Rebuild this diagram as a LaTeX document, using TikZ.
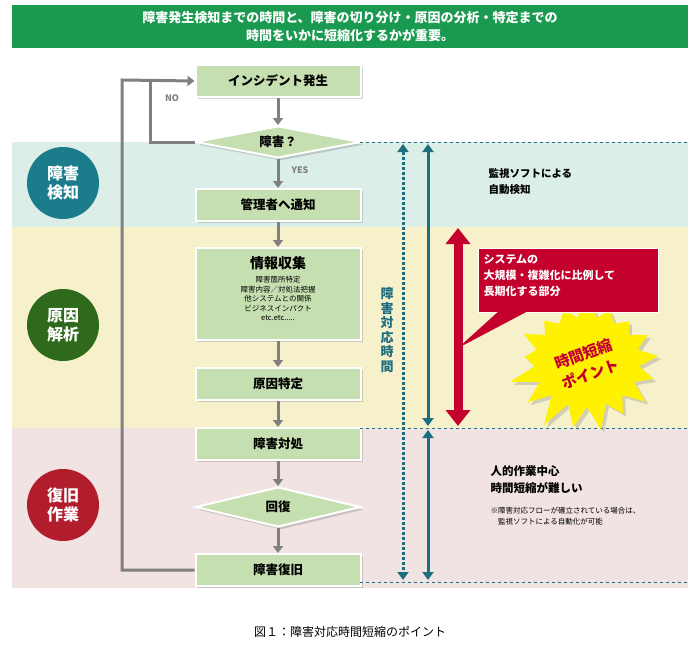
\documentclass[tikz,border=0pt]{standalone}
\usepackage{fontspec}
\setmainfont{Noto Sans CJK JP}
\usetikzlibrary{shapes.geometric,shapes.symbols,arrows.meta,shadows}
\definecolor{bgreen}{HTML}{1A9A50}
\definecolor{bteal}{HTML}{DCEEE8}
\definecolor{byel}{HTML}{F6F1CB}
\definecolor{bpink}{HTML}{F2E3E3}
\definecolor{cteal}{HTML}{1B7D8C}
\definecolor{cgreen}{HTML}{2F6A1C}
\definecolor{cred}{HTML}{B21D2E}
\definecolor{boxg}{HTML}{C6DFB1}
\definecolor{dteal}{HTML}{1F6E80}
\definecolor{dred}{HTML}{C4002D}
\definecolor{flow}{HTML}{808080}
\begin{document}
\begin{tikzpicture}[x=1pt,y=-1pt,
  box/.style={draw=white,line width=2pt,fill=boxg,minimum width=165pt,minimum height=32pt,font=\bfseries\fontsize{12.5}{14}\selectfont,drop shadow={opacity=0.35,shadow xshift=2pt,shadow yshift=-2pt}},
  dia/.style={diamond,aspect=5.2,draw=white,line width=2pt,fill=boxg,inner sep=1pt,font=\bfseries\fontsize{12.5}{14}\selectfont,drop shadow={opacity=0.35}},
  circ/.style={circle,minimum size=72pt,text=white,font=\bfseries\fontsize{16}{19}\selectfont,align=center},
  fl/.style={flow,line width=3pt,-{Triangle[length=7pt,width=10pt]}},
  lp/.style={flow,line width=3pt}]
\useasboundingbox (0,0) rectangle (700,650);
\fill[white] (0,0) rectangle (700,650);
\node[fill=bgreen,text=white,minimum width=676pt,minimum height=43pt,align=center,font=\bfseries\fontsize{13}{18}\selectfont] (ban) at (350,27) {障害発生検知までの時間と、障害の切り分け・原因の分析・特定までの\\時間をいかに短縮化するかが重要。};
\fill[bteal] (12,142) rectangle (688,227);
\fill[byel] (12,227) rectangle (688,428);
\fill[bpink] (12,428) rectangle (688,588);
\node[circ,fill=cteal] (c1) at (63,183) {障害\\検知};
\node[circ,fill=cgreen] (c2) at (63,325) {原因\\解析};
\node[circ,fill=cred] (c3) at (63,505) {復旧\\作業};
% flow
\node[box] (b1) at (278,81) {インシデント発生};
\node[dia,minimum width=165pt,minimum height=32pt] (d1) at (278,142) {障害？};
\node[box] (b2) at (278,205) {管理者へ通知};
\node[box,minimum height=92pt] (b3) at (278,294) {};
\node[font=\bfseries\fontsize{14}{16}\selectfont] (b3t) at (278,263) {情報収集};
\node[align=center,font=\fontsize{7.5}{9.5}\selectfont,anchor=north] (b3s) at (278,273) {障害箇所特定\\障害内容／対処法把握\\他システムとの関係\\ビジネスインパクト\\etc.etc.....};
\node[box] (b4) at (278,384) {原因特定};
\node[box] (b5) at (278,444) {障害対処};
\node[dia,minimum width=165pt,minimum height=40pt] (d2) at (278,507) {回復};
\node[box] (b6) at (278,570) {障害復旧};
\draw[fl] (b1) -- (d1);
\draw[fl] (d1) -- (b2);
\draw[fl] (b2) -- (b3);
\draw[fl] (b3) -- (b4);
\draw[fl] (b4) -- (b5);
\draw[fl] (b5) -- (d2);
\draw[fl] (d2) -- (b6);
\draw[lp] (d1.west) -| (150,80);
\draw[fl] (b6.west) -| (122,80) -- (b1.west);
\node[font=\bfseries\fontsize{9}{10}\selectfont,text=flow] (no) at (172,98) {NO};
\node[font=\bfseries\fontsize{9}{10}\selectfont,text=flow] (yes) at (300,170) {YES};
% dashed lines
\draw[dteal,dashed,line width=0.8pt] (360,142) -- (688,142);
\draw[dteal,dashed,line width=0.8pt] (360,428) -- (688,428);
\draw[dteal,dashed,line width=0.8pt] (360,582) -- (688,582);
\coordinate (t1) at (403,144); \coordinate (t2) at (403,580);
\draw[dteal,line width=3pt,dotted,{Triangle[length=8pt,width=11pt]}-{Triangle[length=8pt,width=11pt]}] (t1) -- (t2);
\node[dteal,font=\bfseries\fontsize{13}{14.5}\selectfont,align=center] (lab) at (387,330) {障\\害\\対\\応\\時\\間};
\coordinate (u1) at (428,144); \coordinate (u2) at (428,426); \coordinate (u3) at (428,430); \coordinate (u4) at (428,580);
\draw[dteal,line width=3pt,{Triangle[length=8pt,width=11pt]}-{Triangle[length=8pt,width=11pt]}] (u1) -- (u2);
\draw[dteal,line width=3pt,{Triangle[length=8pt,width=11pt]}-{Triangle[length=8pt,width=11pt]}] (u3) -- (u4);
\coordinate (r1) at (458,228); \coordinate (r2) at (458,426);
\draw[dred,line width=9pt,{Triangle[length=16pt,width=24pt]}-{Triangle[length=16pt,width=24pt]}] (r1) -- (r2);
% starburst
\node[starburst,starburst points=17,starburst point height=30pt,fill=yellow,minimum width=165pt,minimum height=150pt,drop shadow={opacity=0.3,shadow xshift=3pt,shadow yshift=-3pt},random starburst=7] (sb) at (587,362) {};
\node[rotate=20,text=dred,align=center,font=\bfseries\fontsize{15}{21}\selectfont] (sbt) at (587,364) {時間短縮\\ポイント};
% callout
\fill[dred] (478,248) rectangle (658,312);
\draw[white,line width=1pt] (478,248) rectangle (658,312);
\fill[dred] (500,310) -- (458,348) -- (530,310) -- cycle;
\node[anchor=north west,text=white,align=left,font=\bfseries\fontsize{11}{16}\selectfont] (ct) at (480,251) {システムの\\大規模・複雑化に比例して\\長期化する部分};
% right texts
\node[anchor=north west,align=left,font=\bfseries\fontsize{10.5}{16}\selectfont] (tx1) at (485,165) {監視ソフトによる\\自動検知};
\node[anchor=north west,align=left,font=\bfseries\fontsize{11.5}{17}\selectfont] (tx2) at (487,462) {人的作業中心\\時間短縮が難しい};
\node[anchor=north west,align=left,font=\fontsize{7.5}{10.5}\selectfont] (tx3) at (487,504) {※障害対応フローが確立されている場合は、\\\hspace{1em}監視ソフトによる自動化が可能};
\node[font=\fontsize{12}{14}\selectfont] (cap) at (350,632) {図１：障害対応時間短縮のポイント};
\end{tikzpicture}
\end{document}
